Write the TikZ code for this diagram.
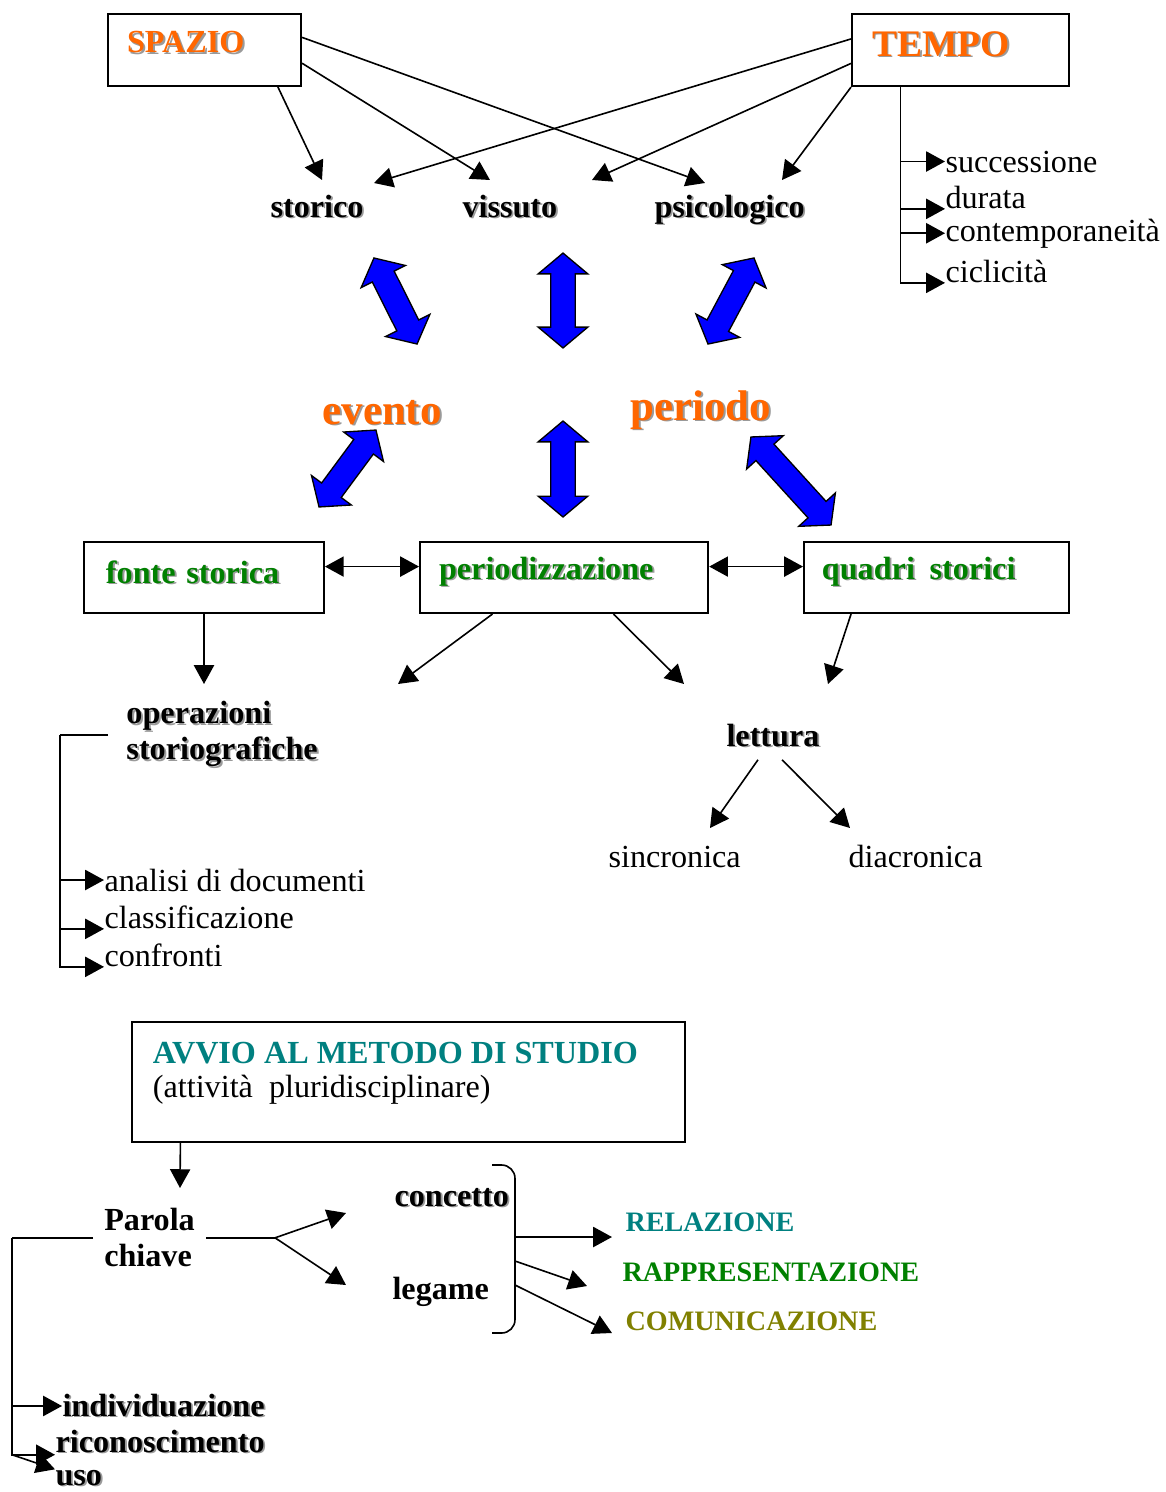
\documentclass[tikz,border=0pt]{standalone}
\usepackage{fontspec}
\setmainfont{Liberation Serif}
\usepackage{xcolor}
\usepackage{tikz}
\usetikzlibrary{arrows.meta,shapes.arrows,calc}

\definecolor{orangeT}{HTML}{FF6600}
\definecolor{greenT}{HTML}{008000}
\definecolor{tealT}{HTML}{008080}
\definecolor{oliveT}{HTML}{808000}
\definecolor{shadeT}{HTML}{9A9A9A}
\newcommand{\shd}[1]{\rlap{\kern0.7pt\raisebox{-0.7pt}{\color{shadeT}#1}}#1}

\begin{document}
\begin{tikzpicture}[
  x=0.373pt, y=-0.373pt,
  box/.style={rectangle, draw, line width=0.75pt, anchor=north west, inner ysep=0pt},
  ttl/.style={font=\fontsize{#1}{#1}\selectfont\bfseries, text=orangeT},
  grn/.style={font=\fontsize{12}{13.4}\selectfont\bfseries, text=greenT},
  lbl/.style={anchor=base west, inner sep=0pt, font=\fontsize{12}{13.4}\selectfont\bfseries},
  txt/.style={anchor=base west, inner sep=0pt, font=\fontsize{12}{13.4}\selectfont},
  caps/.style={anchor=base west, inner sep=0pt, font=\fontsize{10.5}{12}\selectfont\bfseries},
  big/.style={lbl, font=\fontsize{16}{16}\selectfont\bfseries, text=orangeT},
  arr/.style={-{Triangle[length=7pt,width=7.5pt]}, line width=0.6pt},
  darr/.style={{Triangle[length=7pt,width=7.5pt]}-{Triangle[length=7pt,width=7.5pt]}, line width=0.6pt},
  bigarr/.style={double arrow, draw=black, fill=blue, line width=0.5pt, inner sep=4.3pt,
    double arrow head extend=4.7pt, double arrow tip angle=100, minimum height=#1}
]
\useasboundingbox (0,0) rectangle (1166,1492);

% Top: space and time
\node[box, ttl=12, inner xsep=7.1pt, text width=57.8pt, text height=14.5pt, text depth=12.3pt] (spazio) at (107,13) {\shd{SPAZIO}};
\node[box, ttl=14, inner xsep=7.5pt, text width=66pt, text height=15.7pt, text depth=11.2pt] (tempo) at (851,13) {\shd{TEMPO}};

\node[lbl] (storico) at (270,217) {\shd{storico}};
\node[lbl] (vissuto) at (462,217) {\shd{vissuto}};
\node[lbl] (psico) at (654,217) {\shd{psicologico}};

\coordinate (sto-a) at (322,180);
\coordinate (sto-b) at (374,183);
\coordinate (vis-a) at (490,180);
\coordinate (vis-b) at (592,180);
\coordinate (psi-a) at (705,183);
\coordinate (psi-b) at (782,180);

\draw[arr] ($(spazio.south west)!0.876!(spazio.south east)$) -- (sto-a);
\draw[arr] ($(spazio.north east)!0.68!(spazio.south east)$) -- (vis-a);
\draw[arr] ($(spazio.north east)!0.33!(spazio.south east)$) -- (psi-a);
\draw[arr] ($(tempo.north west)!0.35!(tempo.south west)$) -- (sto-b);
\draw[arr] ($(tempo.north west)!0.68!(tempo.south west)$) -- (vis-b);
\draw[arr] (tempo.south west) -- (psi-b);

% Time list
\node[txt] (succ) at (945,172) {successione};
\node[txt] (durata) at (945,208) {durata};
\node[txt] (contemp) at (945,241) {contemporaneità};
\node[txt] (cicl) at (945,282) {ciclicità};
\coordinate (tstem) at ($(tempo.south west)!0.226!(tempo.south east)$);
\draw[arr] (tstem) |- (succ.west);
\draw[arr] (tstem) |- (durata.south west);
\draw[arr] (tstem) |- (contemp.west);
\draw[arr] (tstem) |- (cicl.south west);

% Blue double arrows
\node[bigarr=35.9pt, rotate=-63.4] (ba1) at (395.5,301) {};
\node[bigarr=35.4pt, rotate=90] (ba2) at (563,300.5) {};
\node[bigarr=36.4pt, rotate=61.9] (ba3) at (731,301) {};
\node[bigarr=35.7pt, rotate=53.5] (ba4) at (347.5,468.5) {};
\node[bigarr=35.8pt, rotate=90] (ba5) at (563,469) {};
\node[bigarr=44.4pt, rotate=-47.7] (ba6) at (791,481) {};

\node[big] (evento) at (322,424) {\shd{evento}};
\node[big] (periodo) at (630,420) {\shd{periodo}};

% Middle boxes
\node[box, grn, inner xsep=8.2pt, text width=73.1pt, text height=15.3pt, text depth=11.2pt] (fonte) at (83,541) {\shd{fonte storica}};
\node[box, grn, inner xsep=7.1pt, text width=93.3pt, text height=13.8pt, text depth=12.7pt] (periodiz) at (419,541) {\shd{periodizzazione}};
\node[box, grn, inner xsep=6.7pt, text width=85.4pt, text height=13.8pt, text depth=12.7pt] (quadri) at (803,541) {\shd{quadri\ \hspace{1.5pt}storici}};

\draw[darr] ($(fonte.north east)!0.35!(fonte.south east)$) -- ($(periodiz.north west)!0.35!(periodiz.south west)$);
\draw[darr] ($(periodiz.north east)!0.35!(periodiz.south east)$) -- ($(quadri.north west)!0.35!(quadri.south west)$);

\coordinate (ops-in) at (204,684);
\coordinate (per-l) at (398,684);
\coordinate (lett-b) at (684,684);
\coordinate (lett-c) at (828,684);
\draw[arr] (fonte.south) -- (ops-in);
\draw[arr] ($(periodiz.south west)!0.253!(periodiz.south east)$) -- (per-l);
\draw[arr] ($(periodiz.south west)!0.67!(periodiz.south east)$) -- (lett-b);
\draw[arr] ($(quadri.south west)!0.18!(quadri.south east)$) -- (lett-c);

% Historiographic operations
\node[lbl, anchor=north west, inner xsep=6.7pt, align=left] (ops) at (108,701) {\shd{operazioni}\\\shd{storiografiche}};
\node[txt] (analisi) at (104,891) {analisi di documenti};
\node[txt] (classif) at (104,928) {classificazione};
\node[txt] (confr) at (104,966) {confronti};
\draw[line width=0.6pt] (ops.west) -- ++(-48,0) coordinate (obar);
\draw[arr] (obar) |- (analisi.west);
\draw[arr] (obar) |- (classif.south west);
\draw[arr] (obar) |- (confr.south west);

% Reading
\node[lbl] (lettura) at (726,746) {\shd{lettura}};
\node[txt] (sincr) at (608,867) {sincronica};
\node[txt] (diacr) at (848,867) {diacronica};
\coordinate (sincr-in) at (710,828);
\coordinate (diacr-in) at (850,828);
\draw[arr] ($(lettura.south)+(-15,11)$) -- (sincr-in);
\draw[arr] ($(lettura.south)+(9,11)$) -- (diacr-in);

% Study method
\node[box, inner xsep=7.8pt, text height=15.3pt, text depth=29.5pt] (avvio) at (131,1021)
  {\parbox[t]{190.7pt}{\fontsize{12}{12.7}\selectfont\textcolor{tealT}{\bfseries AVVIO AL METODO DI STUDIO}\\(attività\ \ pluridisciplinare)}};
\coordinate (par-in) at (180,1188);
\draw[arr] ($(avvio.south west)!0.089!(avvio.south east)$) -- (par-in);

\node[lbl, anchor=north west, inner xsep=4pt, align=left] (parola) at (93,1208) {Parola\\chiave};
\node[lbl] (concetto) at (394,1206) {\shd{concetto}};
\node[lbl] (legame) at (392,1299) {legame};
\draw[line width=0.6pt] (parola.east) -- ++(69,0) coordinate (pfork);
\coordinate (conc-in) at (346,1213);
\coordinate (leg-in) at (346,1285);
\draw[arr] (pfork) -- (conc-in);
\draw[arr] (pfork) -- (leg-in);

\draw[line width=0.6pt, rounded corners=5pt] (492,1165) -- (515,1165) -- (515,1333) -- (492,1333);
\coordinate (br1) at (515,1237);
\coordinate (br2) at (515,1261);
\coordinate (br3) at (515,1285);

\node[caps, text=tealT] (relaz) at (625,1231) {RELAZIONE};
\node[caps, text=greenT] (rappr) at (622,1281) {RAPPRESENTAZIONE};
\node[caps, text=oliveT] (comun) at (625,1330) {COMUNICAZIONE};
\coordinate (relaz-in) at (612,1237);
\coordinate (rappr-in) at (587,1286);
\coordinate (comun-in) at (612,1333);
\draw[arr] (br1) -- (relaz-in);
\draw[arr] (br2) -- (rappr-in);
\draw[arr] (br3) -- (comun-in);

% Key word uses
\node[lbl] (indiv) at (62,1416) {\shd{individuazione}};
\node[lbl] (ricon) at (55,1452) {\shd{riconoscimento}};
\node[lbl] (uso) at (55,1485) {\shd{uso}};
\draw[line width=0.6pt] (parola.west) -- ++(-81,0) coordinate (pbar);
\draw[arr] (pbar) |- (indiv.west);
\draw[arr] (pbar) |- (ricon.south west);
\draw[arr] (pbar |- ricon.south west) -- (uso.north west);

\end{tikzpicture}
\end{document}
